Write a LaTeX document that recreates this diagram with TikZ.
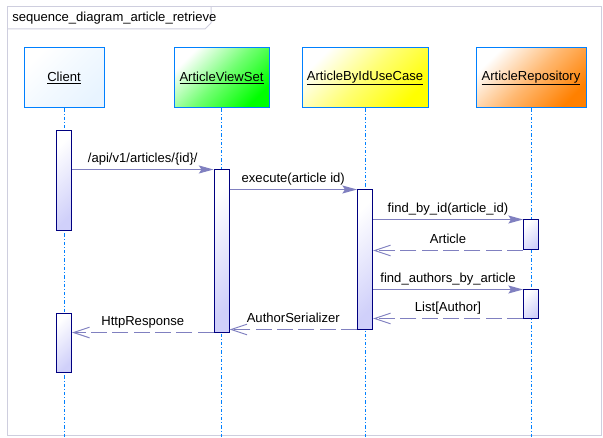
\documentclass[tikz,border=0pt]{standalone}
\usepackage{fontspec}
\setmainfont{Liberation Sans}
\usetikzlibrary{arrows.meta}

\definecolor{lifeblue}{RGB}{0,128,255}
\definecolor{msgc}{RGB}{128,128,192}
\definecolor{barnavy}{RGB}{0,0,128}
\definecolor{barfill}{RGB}{208,208,250}
\definecolor{framec}{RGB}{206,206,222}
\definecolor{clientfill}{RGB}{232,244,255}
\definecolor{repofill}{RGB}{255,128,0}

\tikzset{
  objbox/.style={draw=lifeblue, line width=0.75pt, minimum height=45pt, inner sep=0pt,
    top color=white, bottom color=#1, middle color=#1!55, shading angle=45},
  actbar/.style={draw=barnavy, line width=0.75pt, minimum width=11.25pt, inner sep=0pt,
    top color=white, bottom color=barfill, shading angle=45},
  lifeline/.style={draw=lifeblue, line width=0.75pt, dash pattern=on 2.5pt off 1.5pt on 0.75pt off 1.5pt},
  callmsg/.style={draw=msgc, line width=0.75pt, -{Stealth[length=11pt,width=6pt,inset=2pt]}},
  retmsg/.style={draw=msgc, line width=0.75pt, dash pattern=on 12pt off 4pt,
    -{Straight Barb[length=12pt,width=8pt]}},
  msglabel/.style={anchor=south, inner sep=2.5pt, text depth=2.5pt},
}

\begin{document}
\begin{tikzpicture}[x=0.75pt,y=0.75pt,yscale=-1,
  every node/.style={font=\fontsize{9.8}{11}\selectfont}]
\useasboundingbox (0,0) rectangle (603,438);

%Frame
\draw[framec, line width=0.75pt] (7,7) rectangle (601,435);
\draw[framec, line width=0.75pt] (7,29) -- (205,29) -- (211,23) -- (211,7);
% Text Node
\node[anchor=west, inner sep=0pt] (title) at (12,18) {sequence\_diagram\_article\_retrieve};

%Objects
\node[objbox=clientfill, minimum width=60pt] (client) at (64,78) {\underline{Client}};
\node[objbox=green, minimum width=71.25pt] (viewset) at (221.5,78) {\underline{ArticleViewSet}};
\node[objbox=yellow, minimum width=94.5pt] (usecase) at (365,78) {\underline{ArticleByIdUseCase}};
\node[objbox=repofill, minimum width=82.5pt] (repo) at (531,78) {\underline{ArticleRepository}};

%Lifelines
\draw[lifeline] (client.south) -- (client.south |- 0,438);
\draw[lifeline] (viewset.south) -- (viewset.south |- 0,438);
\draw[lifeline] (usecase.south) -- (usecase.south |- 0,438);
\draw[lifeline] (repo.south) -- (repo.south |- 0,438);

%Activations
\node[actbar, minimum height=75pt] (cbar1) at (64,181) {};
\node[actbar, minimum height=44.25pt] (cbar2) at (64,342.5) {};
\node[actbar, minimum height=121.5pt] (vbar) at (221.5,251) {};
\node[actbar, minimum height=104.25pt] (ubar) at (365,259.5) {};
\node[actbar, minimum height=22.5pt] (rbar1) at (531,235) {};
\node[actbar, minimum height=21pt] (rbar2) at (531,304) {};

%Messages
\draw[callmsg] (cbar1.east |- vbar.north) -- (vbar.north west) node[msglabel, midway] {/api/v1/articles/\{id\}/};
\draw[callmsg] (vbar.east |- ubar.north) -- (ubar.north west) node[msglabel, midway] {execute(article id)};
\draw[callmsg] (ubar.east |- rbar1.north) -- (rbar1.north west) node[msglabel, midway] {find\_by\_id(article\_id)};
\draw[retmsg] (rbar1.south west) -- (ubar.east |- rbar1.south) node[msglabel, midway] {Article};
\draw[callmsg] (ubar.east |- rbar2.north) -- (rbar2.north west) node[msglabel, midway] {find\_authors\_by\_article};
\draw[retmsg] (rbar2.south west) -- (ubar.east |- rbar2.south) node[msglabel, midway] {List[Author]};
\draw[retmsg] (ubar.south west) -- (vbar.east |- ubar.south) node[msglabel, midway] {AuthorSerializer};
\draw[retmsg] (vbar.south west) -- (cbar2.east |- vbar.south) node[msglabel, midway] {HttpResponse};

\end{tikzpicture}
\end{document}
